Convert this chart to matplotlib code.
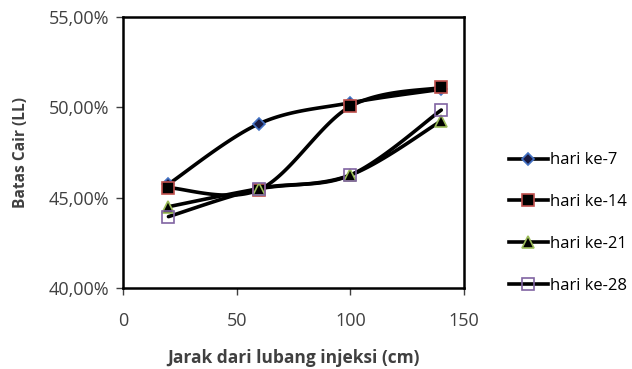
import numpy as np
import matplotlib.pyplot as plt
from matplotlib.lines import Line2D

plt.rcParams['font.family'] = ['Open Sans', 'DejaVu Sans']

jarak = [20, 60, 100, 140]
hari_7 = [45.75, 49.1, 50.25, 51.0]
hari_14 = [45.55, 45.45, 50.05, 51.1]
hari_21 = [44.5, 45.5, 46.25, 49.25]
hari_28 = [43.95, 45.5, 46.25, 49.85]

series = [
  ('hari ke-7', hari_7, dict(marker='D', ms=6, mfc='#1a1a40', mec='#4472c4')),
  ('hari ke-14', hari_14, dict(marker='s', ms=9, mfc='black', mec='#c0504d')),
  ('hari ke-21', hari_21, dict(marker='^', ms=8, mfc='black', mec='#9bbb59')),
  ('hari ke-28', hari_28, dict(marker='s', ms=9, mfc='none', mec='#8064a2')),
]

XMIN, XMAX, YMIN, YMAX = 0, 150, 40, 55


def smooth(x, y, n=40):
  # bezier curves with catmull-rom style control points, computed in axes units
  px = (np.asarray(x, float) - XMIN) / (XMAX - XMIN) * 341
  py = (np.asarray(y, float) - YMIN) / (YMAX - YMIN) * 271
  P = np.column_stack([px, py])
  P = np.vstack([P[0], P, P[-1]])
  out = []
  t = np.linspace(0, 1, n)[:, None]
  for i in range(1, len(P) - 2):
    p0, p1, p2, p3 = P[i - 1], P[i], P[i + 1], P[i + 2]
    c1 = p1 + (p2 - p0) / 6
    c2 = p2 - (p3 - p1) / 6
    seg = (1 - t)**3 * p1 + 3 * (1 - t)**2 * t * c1 + 3 * (1 - t) * t**2 * c2 + t**3 * p2
    out.append(seg)
  out = np.vstack(out)
  return out[:, 0] / 341 * (XMAX - XMIN) + XMIN, out[:, 1] / 271 * (YMAX - YMIN) + YMIN


fig = plt.figure(figsize=(6.32, 3.69), dpi=100)
ax = fig.add_axes([0.1946, 0.2195, 0.5396, 0.7345])

handles = []
for name, vals, style in series:
  sx, sy = smooth(jarak, vals)
  ax.plot(sx, sy, color='black', lw=2.6, solid_capstyle='round', zorder=2)
  ax.plot(jarak, vals, ls='none', mew=1.2, zorder=3, **style)
  handles.append(Line2D([], [], color='black', lw=2.6, mew=1.2, label=name, **style))

ax.set_xlim(XMIN, XMAX)
ax.set_ylim(YMIN, YMAX)
ax.set_xticks([0, 50, 100, 150])
ax.set_yticks([40, 45, 50, 55])
ax.set_yticklabels([('%.2f%%' % v).replace('.', ',') for v in [40, 45, 50, 55]])
ax.tick_params(labelsize=13, colors='#404040', length=5, width=1)
ax.tick_params(axis='x', pad=12)
ax.tick_params(axis='y', pad=5)
for sp in ax.spines.values():
  sp.set_linewidth(1.8)
  sp.set_color('black')

ax.set_xlabel('Jarak dari lubang injeksi (cm)', fontsize=12.5, fontweight='bold', color='#404040', labelpad=14)
ax.set_ylabel('Batas Cair (LL)', fontsize=11.2, fontweight='bold', color='#404040', labelpad=14)

fig.legend(handles=handles, loc='center left', bbox_to_anchor=(0.782, 0.395), frameon=False,
           fontsize=12, handlelength=2.3, handletextpad=0.15, labelspacing=1.55)

fig.savefig('out.png', dpi=100, facecolor='w')
